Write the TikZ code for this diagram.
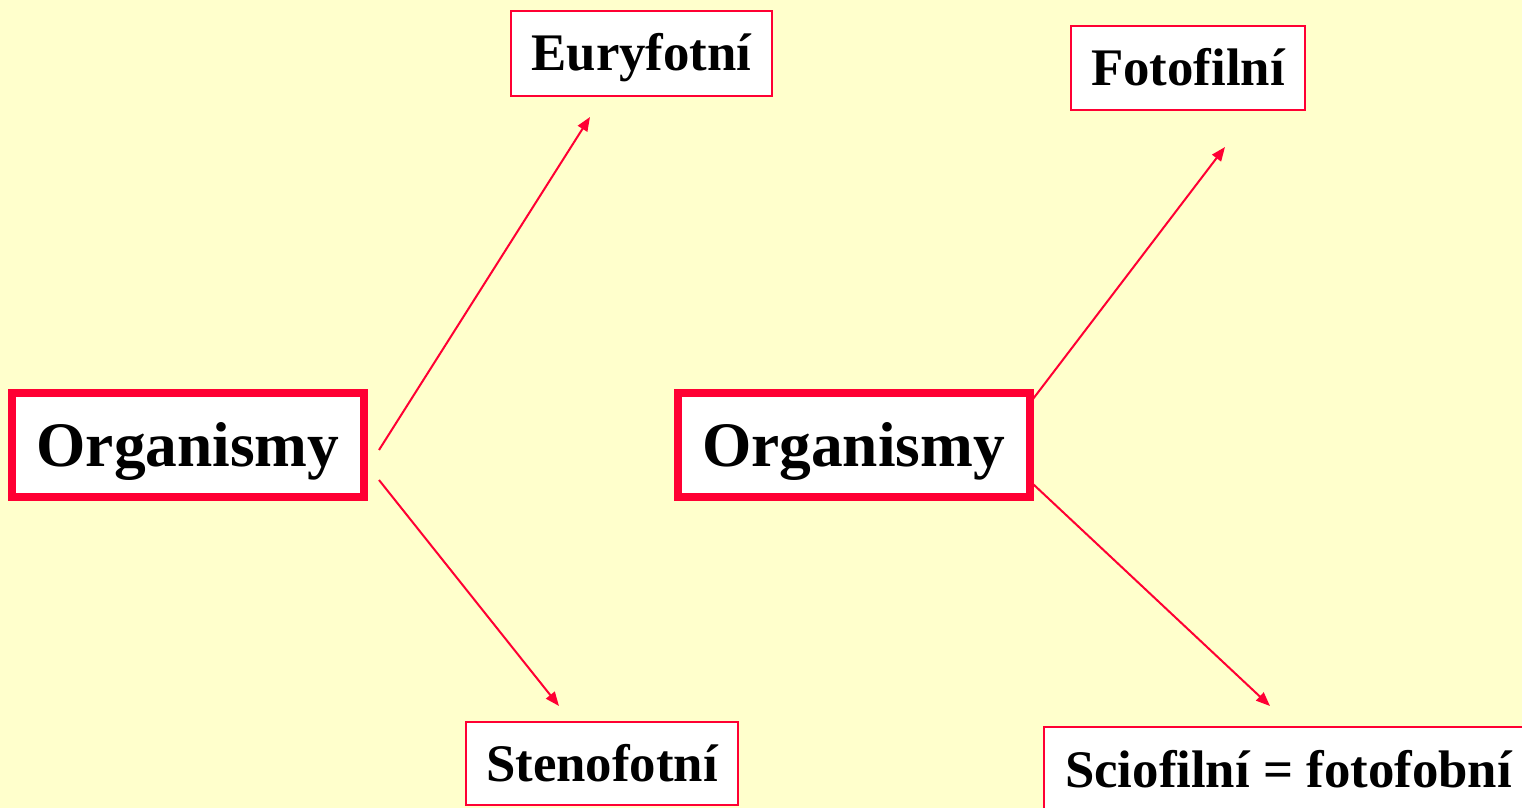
\documentclass[tikz,border=0pt]{standalone}
\usepackage{fontspec}
\setmainfont{Liberation Serif}
\usetikzlibrary{arrows.meta}
\definecolor{bgyellow}{HTML}{FFFFCC}
\definecolor{boxred}{HTML}{FF0033}
\tikzset{
  bigbox/.style={draw=boxred, line width=4pt, fill=white, inner sep=0pt,
    minimum width=176pt, minimum height=52pt,
    font=\bfseries\fontsize{31.7}{38}\selectfont, text height=21pt, text depth=0pt},
  smallbox/.style={draw=boxred, line width=1pt, fill=white, inner sep=0pt,
    font=\bfseries\fontsize{26.4}{32}\selectfont, text height=17.5pt, text depth=0pt},
  arr/.style={draw=boxred, line width=1pt, -{Triangle[length=7pt,width=5.5pt]}}
}
\begin{document}
\begin{tikzpicture}[x=0.5pt,y=-0.5pt]
\fill[bgyellow] (0,0) rectangle (1522,808);
\useasboundingbox (0,0) rectangle (1522,808);
\clip (0,0) rectangle (1522,808);

\node[bigbox] (org1) at (188,445) {Organismy};
\node[bigbox] (org2) at (853.5,445) {Organismy};

\node[smallbox, minimum width=130.5pt, minimum height=42.5pt] (eury) at (641.5,53.5) {Euryfotní};
\node[smallbox, minimum width=136pt, minimum height=41.5pt] (steno) at (602,763.5) {Stenofotní};
\node[smallbox, minimum width=117pt, minimum height=42pt] (foto) at (1188,68) {Fotofilní};
\node[smallbox, minimum width=244.5pt, minimum height=42.5pt] (scio) at (1288.5,769.5) {Sciofilní = fotofobní};

\coordinate (a1s) at (379,450);
\coordinate (a1e) at (590,117);
\coordinate (a2s) at (379,480);
\coordinate (a2e) at (559,706);
\coordinate (a3s) at (1033,399);
\coordinate (a3e) at (1225,147);
\coordinate (a4s) at (1033,484);
\coordinate (a4e) at (1270,706);

\draw[arr] (a1s) -- (a1e);
\draw[arr] (a2s) -- (a2e);
\draw[arr] (a3s) -- (a3e);
\draw[arr] (a4s) -- (a4e);
\end{tikzpicture}
\end{document}
